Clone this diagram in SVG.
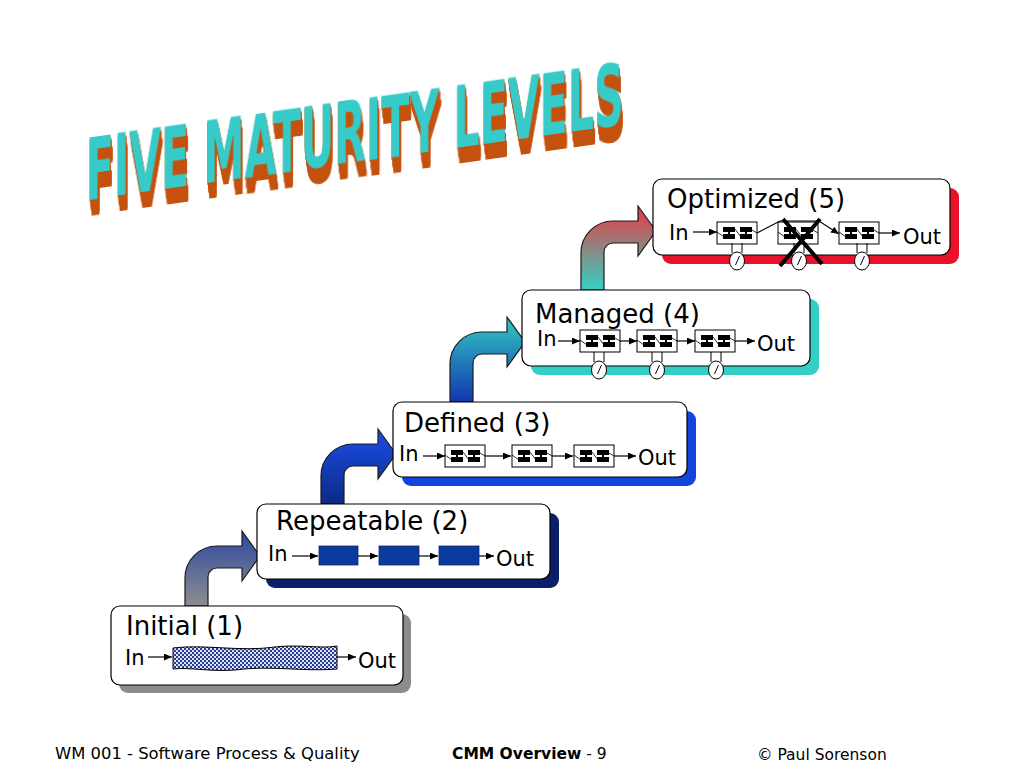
<svg xmlns="http://www.w3.org/2000/svg" xmlns:xlink="http://www.w3.org/1999/xlink" width="1024" height="768" viewBox="0 0 1024 768">
<style>
  .box { fill: #ffffff; stroke: #000000; stroke-width: 1.2; }
  .title { font-family: "DejaVu Sans", "Liberation Sans", sans-serif; font-size: 26px; fill: #000; }
  .io { font-family: "DejaVu Sans", "Liberation Sans", sans-serif; font-size: 21px; fill: #000; }
  .flow { stroke: #000; stroke-width: 1.2; fill: none; marker-end: url(#ah); }
  .bent { stroke: #1a1a1a; stroke-width: 1.2; }
  .foot { font-family: "DejaVu Sans", "Liberation Sans", sans-serif; font-size: 15.5px; fill: #000; }
  .foot-wide { font-size: 16.4px; }
  .rblk { fill: #0b3a9e; stroke: #0a2a70; stroke-width: 0.8; }
</style>
<defs>
  <marker id="ah" markerWidth="8" markerHeight="7" refX="8" refY="3.5" orient="auto" markerUnits="userSpaceOnUse">
    <path d="M0,0 L8,3.5 L0,7 Z" fill="#000"/>
  </marker>
  <pattern id="dots" width="4" height="4" patternUnits="userSpaceOnUse">
    <rect width="4" height="4" fill="#e6ebf8"/>
    <circle cx="1" cy="1" r="1.15" fill="#1f348a"/>
    <circle cx="3" cy="3" r="1.15" fill="#1f348a"/>
  </pattern>
  <g id="proc">
    <rect width="40" height="22" fill="#fff" stroke="#000" stroke-width="1"/>
    <path d="M0,10 L7,15 M18,7 L24,15 M35,8 L40,11" stroke="#000" stroke-width="0.8" fill="none"/>
    <rect x="6" y="5" width="12" height="5" fill="#000"/>
    <rect x="6" y="12" width="12" height="5" fill="#000"/>
    <rect x="11" y="9" width="2" height="4" fill="#000"/>
    <rect x="23" y="5" width="12" height="5" fill="#000"/>
    <rect x="23" y="12" width="12" height="5" fill="#000"/>
    <rect x="28" y="9" width="2" height="4" fill="#000"/>
  </g>
  <g id="gauge">
    <path d="M-5,0 L-5,10 M5,0 L5,10" stroke="#000" stroke-width="1" fill="none"/>
    <ellipse cx="0" cy="18" rx="7.5" ry="9" fill="#fff" stroke="#000" stroke-width="1"/>
    <path d="M-1.5,22 L2.5,13" stroke="#000" stroke-width="1"/>
  </g>
  <linearGradient id="g1" gradientUnits="userSpaceOnUse" x1="0" y1="606" x2="0" y2="530">
    <stop offset="0" stop-color="#8e8e8e"/><stop offset="1" stop-color="#2a46a0"/>
  </linearGradient>
  <linearGradient id="g2" gradientUnits="userSpaceOnUse" x1="0" y1="504" x2="0" y2="428">
    <stop offset="0" stop-color="#0c2a84"/><stop offset="1" stop-color="#1a50ea"/>
  </linearGradient>
  <linearGradient id="g3" gradientUnits="userSpaceOnUse" x1="0" y1="402" x2="0" y2="316">
    <stop offset="0" stop-color="#0f36b0"/><stop offset="1" stop-color="#35cbc2"/>
  </linearGradient>
  <linearGradient id="g4" gradientUnits="userSpaceOnUse" x1="0" y1="290" x2="0" y2="206">
    <stop offset="0" stop-color="#33d2c4"/><stop offset="1" stop-color="#ea3840"/>
  </linearGradient>
  <filter id="extrude" x="-10%" y="-30%" width="125%" height="190%" color-interpolation-filters="sRGB">
    <feOffset in="SourceAlpha" dx="0.5" dy="2" result="a1"/>
    <feOffset in="SourceAlpha" dx="1" dy="4" result="a2"/>
    <feOffset in="SourceAlpha" dx="1.5" dy="6" result="a3"/>
    <feOffset in="SourceAlpha" dx="2" dy="8" result="a4"/>
    <feOffset in="SourceAlpha" dx="2.5" dy="10" result="a5"/>
    <feOffset in="SourceAlpha" dx="3" dy="12" result="a6"/>
    <feOffset in="SourceAlpha" dx="3.5" dy="14" result="a7"/>
    <feOffset in="SourceAlpha" dx="4" dy="16" result="a8"/>
    <feMerge result="m">
      <feMergeNode in="a1"/><feMergeNode in="a2"/><feMergeNode in="a3"/><feMergeNode in="a4"/>
      <feMergeNode in="a5"/><feMergeNode in="a6"/><feMergeNode in="a7"/><feMergeNode in="a8"/>
    </feMerge>
    <feFlood flood-color="#c4520e"/>
    <feComposite in2="m" operator="in" result="ext"/>
    <feMerge><feMergeNode in="ext"/><feMergeNode in="SourceGraphic"/></feMerge>
  </filter>
</defs>
<rect width="1024" height="768" fill="#ffffff"/>

<g id="heading">
  <text x="156" y="212" transform="skewY(-8) scale(0.55 1)" font-family="'DejaVu Sans Condensed', 'DejaVu Sans', sans-serif" font-weight="bold" font-size="86" textLength="978" lengthAdjust="spacingAndGlyphs" fill="#36cbc9" filter="url(#extrude)">FIVE MATURITY LEVELS</text>
</g>

<g id="connectors">
  <path class="bent" fill="url(#g1)" d="M185,606 L185,578 A32,32 0 0 1 217,546 L242,546 L242,531 L260,556 L242,581 L242,568 L217,568 A9,9 0 0 0 208,577 L208,606 Z"/>
  <path class="bent" fill="url(#g2)" d="M321,504 L321,476 A32,32 0 0 1 353,444 L378,444 L378,429 L396,454 L378,479 L378,466 L353,466 A9,9 0 0 0 344,475 L344,504 Z"/>
  <path class="bent" fill="url(#g3)" d="M450,402 L450,364 A32,32 0 0 1 482,332 L507,332 L507,317 L525,342 L507,367 L507,354 L482,354 A9,9 0 0 0 473,363 L473,402 Z"/>
  <path class="bent" fill="url(#g4)" d="M581,290 L581,253 A32,32 0 0 1 613,221 L638,221 L638,206 L656,231 L638,256 L638,243 L613,243 A9,9 0 0 0 604,252 L604,290 Z"/>
</g>

<g id="level1">
  <rect x="119" y="614" width="292" height="79" rx="9" fill="#8c8c8c"/>
  <rect class="box" x="111" y="606" width="292" height="79" rx="9"/>
  <text class="title" x="126" y="635">Initial (1)</text>
  <text class="io" x="125" y="665">In</text>
  <path class="flow" d="M148,657 L172,657"/>
  <path d="M173,648 C205,644 240,652 275,647 C300,644 320,649 337,646 L337,669 C305,672 270,665 235,670 C210,672 190,667 173,669 Z" fill="url(#dots)" stroke="#000" stroke-width="1"/>
  <path class="flow" d="M337,657 L356,657"/>
  <text class="io" x="358" y="668">Out</text>
</g>

<g id="level2">
  <rect x="266" y="513" width="293" height="75" rx="9" fill="#0b1f66"/>
  <rect class="box" x="257" y="504" width="293" height="75" rx="9"/>
  <text class="title" x="276" y="530">Repeatable (2)</text>
  <text class="io" x="268" y="561">In</text>
  <path class="flow" d="M292,556 L318,556"/>
  <rect class="rblk" x="319" y="546" width="39" height="19"/>
  <path class="flow" d="M358,556 L378,556"/>
  <rect class="rblk" x="379" y="546" width="40" height="19"/>
  <path class="flow" d="M419,556 L438,556"/>
  <rect class="rblk" x="439" y="546" width="40" height="19"/>
  <path class="flow" d="M479,556 L494,556"/>
  <text class="io" x="496" y="566">Out</text>
</g>

<g id="level3">
  <rect x="402" y="411" width="294" height="75" rx="9" fill="#1244e0"/>
  <rect class="box" x="393" y="402" width="294" height="75" rx="9"/>
  <text class="title" x="404" y="432">Defined (3)</text>
  <text class="io" x="399" y="461">In</text>
  <path class="flow" d="M423,456 L445,456"/>
  <use xlink:href="#proc" x="445" y="445"/>
  <path class="flow" d="M485,456 L511,456"/>
  <use xlink:href="#proc" x="512" y="445"/>
  <path class="flow" d="M552,456 L573,456"/>
  <use xlink:href="#proc" x="574" y="445"/>
  <path class="flow" d="M614,456 L636,456"/>
  <text class="io" x="638" y="465">Out</text>
</g>

<g id="level4">
  <rect x="531" y="299" width="288" height="76" rx="9" fill="#33cfc6"/>
  <rect class="box" x="522" y="290" width="288" height="76" rx="9"/>
  <text class="title" x="535" y="323">Managed (4)</text>
  <text class="io" x="537" y="346">In</text>
  <path class="flow" d="M558,341 L580,341"/>
  <use xlink:href="#proc" x="580" y="330"/>
  <path class="flow" d="M620,341 L637,341"/>
  <use xlink:href="#proc" x="637" y="330"/>
  <path class="flow" d="M677,341 L695,341"/>
  <use xlink:href="#proc" x="695" y="330"/>
  <path class="flow" d="M735,341 L755,341"/>
  <text class="io" x="757" y="351">Out</text>
  <use xlink:href="#gauge" x="599" y="352"/>
  <use xlink:href="#gauge" x="657" y="352"/>
  <use xlink:href="#gauge" x="716" y="352"/>
</g>

<g id="level5">
  <rect x="662" y="188" width="297" height="76" rx="9" fill="#e8132b"/>
  <rect class="box" x="653" y="179" width="297" height="76" rx="9"/>
  <text class="title" x="667" y="208">Optimized (5)</text>
  <text class="io" x="669" y="240">In</text>
  <path class="flow" d="M693,232 L717,232"/>
  <use xlink:href="#proc" x="717" y="222"/>
  <use xlink:href="#proc" x="778" y="222"/>
  <use xlink:href="#proc" x="839" y="222"/>
  <path class="flow" d="M757,233 L780,221 L819,221 L839,234"/>
  <path class="flow" d="M879,233 L900,233"/>
  <text class="io" x="903" y="244">Out</text>
  <use xlink:href="#gauge" x="737" y="243"/>
  <use xlink:href="#gauge" x="799" y="243"/>
  <use xlink:href="#gauge" x="862" y="243"/>
  <path d="M783,219 L822,264 M820,219 L780,266" stroke="#000" stroke-width="4" fill="none"/>
</g>

<g id="footer">
  <text class="foot foot-wide" x="55" y="759">WM 001 - Software Process &amp; Quality</text>
  <text class="foot" x="452" y="759"><tspan font-weight="bold">CMM Overview</tspan> - 9</text>
  <text class="foot" x="757" y="760">© Paul Sorenson</text>
</g>
</svg>
